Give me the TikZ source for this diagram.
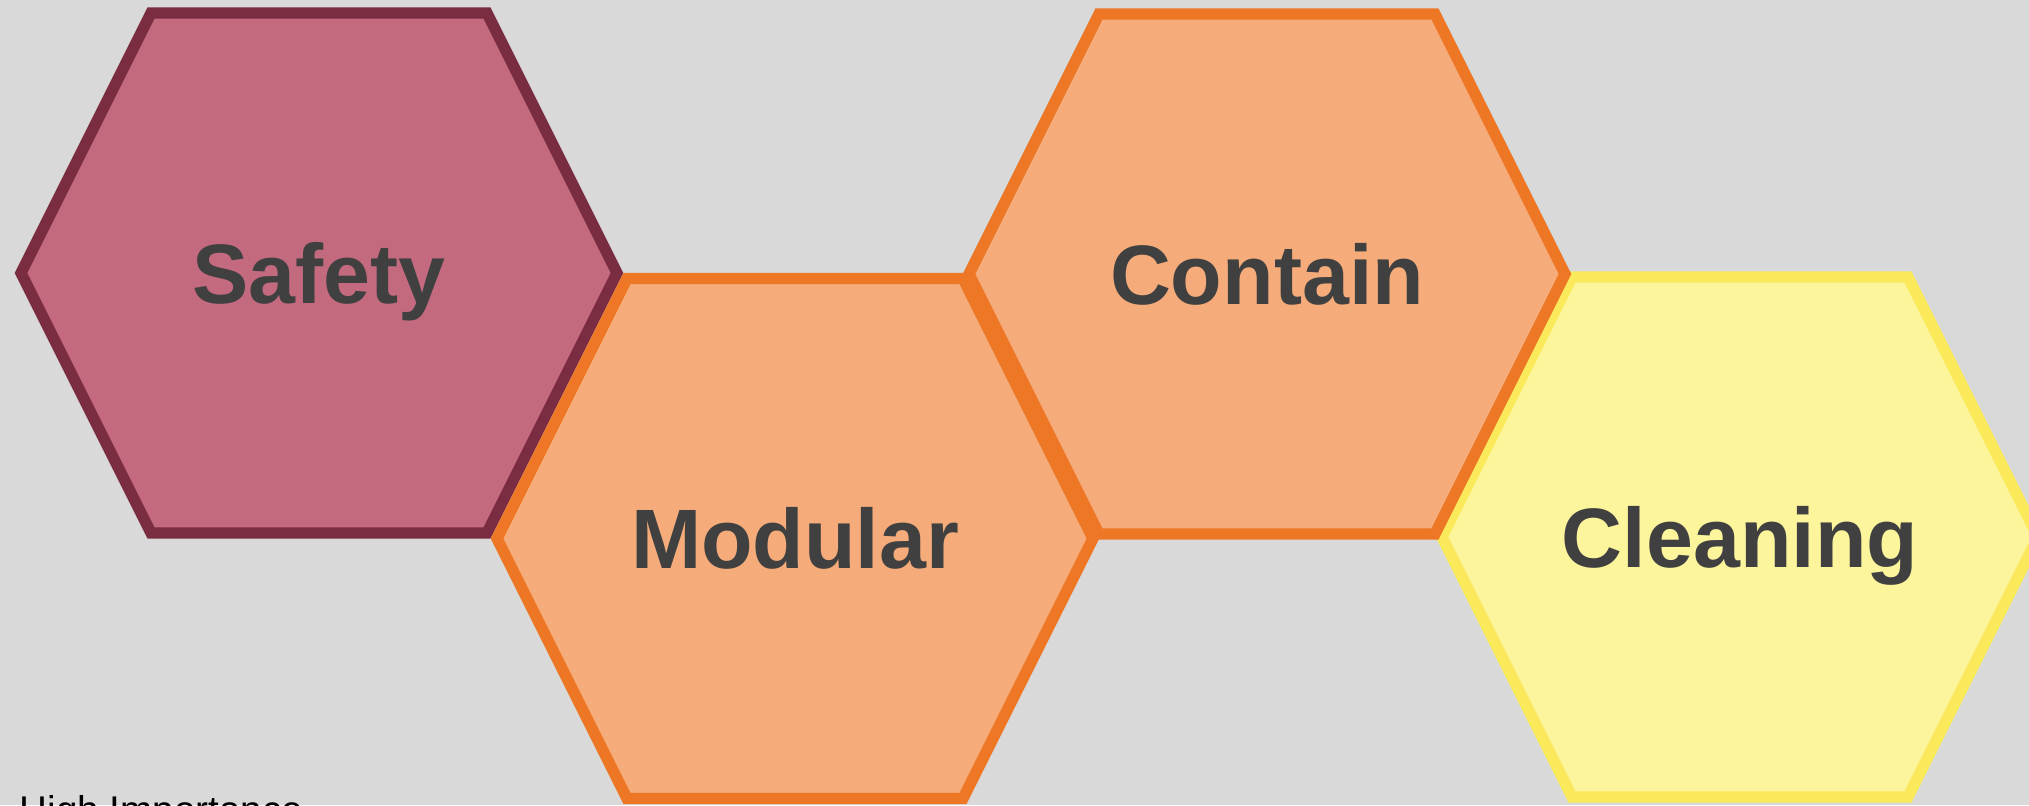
\documentclass[tikz,border=0pt]{standalone}
\usepackage{fontspec}
\setmainfont{Liberation Sans}
\usepackage{xcolor}
\usepackage{tikz}

\definecolor{bgGray}{HTML}{D9D9D9}
\definecolor{safetyFill}{HTML}{C46A7F}
\definecolor{safetyLine}{HTML}{7A2C41}
\definecolor{orangeFill}{HTML}{F5AC7A}
\definecolor{orangeLine}{HTML}{EE7726}
\definecolor{yellowFill}{HTML}{FCF59C}
\definecolor{yellowLine}{HTML}{FAEA5B}
\definecolor{labelGray}{HTML}{404040}

\begin{document}
\begin{tikzpicture}[
    hexa/.style={line width=3.2pt, line join=miter},
    hexlabel/.style={font=\bfseries\fontsize{24}{28}\selectfont, text=labelGray,
      inner sep=0pt, text height=17.2pt, text depth=0pt}
  ]
    \def\hexw{2.98}
    \def\hexs{1.68}
    \def\hexh{2.6}

    \fill[bgGray] (0,0) rectangle (20.29,-8.05);
    \clip (0,0) rectangle (20.29,-8.05);

    \foreach \name/\x/\y/\fc/\lc/\txt in {
        safety/3.19/-2.73/safetyFill/safetyLine/Safety,
        modular/7.95/-5.385/orangeFill/orangeLine/Modular,
        cleaning/17.40/-5.37/yellowFill/yellowLine/Cleaning,
        contain/12.67/-2.74/orangeFill/orangeLine/Contain} {
      \draw[hexa, fill=\fc, draw=\lc] (\x,\y) ++(-\hexw,0) -- ++(\hexw-\hexs,\hexh)
        -- ++(2*\hexs,0) -- ++(\hexw-\hexs,-\hexh) -- ++(\hexs-\hexw,-\hexh)
        -- ++(-2*\hexs,0) -- cycle;
      \node[hexlabel] (\name) at (\x,\y) {\txt};
    }

    \node[anchor=base west, font=\fontsize{11}{13}\selectfont, inner sep=0pt] (importance) at (0.19,-8.23) {High Importance};
\end{tikzpicture}
\end{document}
